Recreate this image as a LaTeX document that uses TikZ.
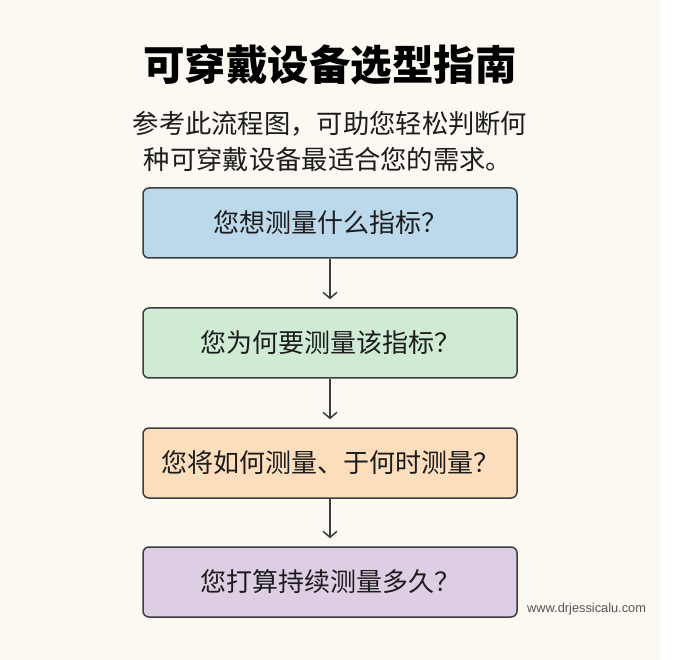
\documentclass[tikz,border=0pt]{standalone}
\usepackage{fontspec}
\usetikzlibrary{arrows.meta}
\newfontfamily\cjk{Noto Sans CJK SC}
\newfontfamily\wmfont{Liberation Sans}
\definecolor{bg}{HTML}{FCF9F3}
\definecolor{boxline}{HTML}{3A3D42}
\definecolor{txt}{HTML}{1C1C1C}
\definecolor{cblue}{HTML}{BCD9EC}
\definecolor{cgreen}{HTML}{CFEBD4}
\definecolor{cpeach}{HTML}{FCDDBC}
\definecolor{clav}{HTML}{DDCEE4}
\definecolor{wmgray}{HTML}{555555}
\begin{document}
\begin{tikzpicture}[x=1pt,y=-1pt,
  box/.style={draw=boxline, line width=1.5pt, rounded corners=6pt,
    minimum width=374pt, minimum height=70pt, inner sep=0pt,
    font=\cjk\fontsize{26}{30}\selectfont, text=txt},
  flow/.style={draw=boxline, line width=1.5pt,
    -{Straight Barb[length=6pt,width=14pt,line width=1.5pt]}, shorten >=8pt}]
\fill[bg] (0,0) rectangle (660,660);
\fill[white] (660,0) rectangle (675,660);
\useasboundingbox (0,0) rectangle (675,660);
\node[font=\cjk\bfseries\fontsize{41.5}{48}\selectfont, text=black] (title) at (330,65) {可穿戴设备选型指南};
\node[font=\cjk\fontsize{26.3}{30}\selectfont, text=txt] (sub1) at (330,124) {参考此流程图，可助您轻松判断何};
\node[font=\cjk\fontsize{26.3}{30}\selectfont, text=txt] (sub2) at (328,160) {种可穿戴设备最适合您的需求。};
\node[box, fill=cblue] (b1) at (330,223) {您想测量什么指标？};
\node[box, fill=cgreen] (b2) at (330,343) {您为何要测量该指标？};
\node[box, fill=cpeach] (b3) at (330,463) {您将如何测量、于何时测量？};
\node[box, fill=clav] (b4) at (330,582) {您打算持续测量多久？};
\draw[flow] (b1.south) -- (b2.north);
\draw[flow] (b2.south) -- (b3.north);
\draw[flow] (b3.south) -- (b4.north);
\node[font=\wmfont\fontsize{12.8}{14}\selectfont, text=wmgray, anchor=west, inner sep=0pt] (wm) at (527,609) {www.drjessicalu.com};
\end{tikzpicture}
\end{document}
